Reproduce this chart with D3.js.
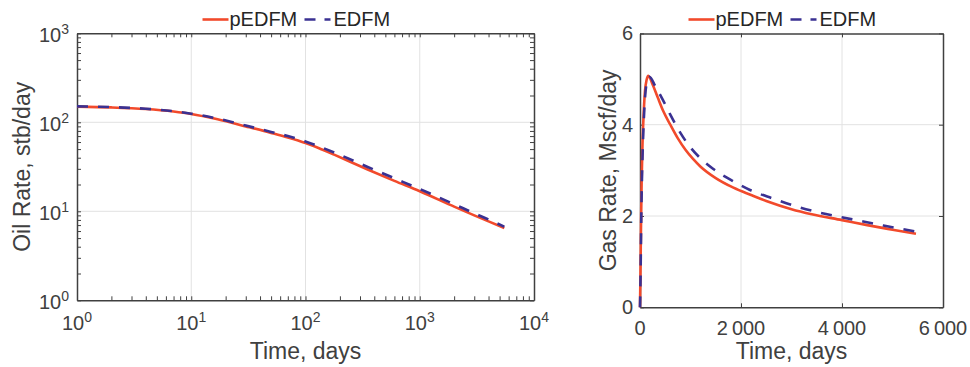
<!DOCTYPE html>
<html>
<head>
<meta charset="utf-8">
<script src="https://cdn.jsdelivr.net/npm/d3@7"></script>
<style>
  body { margin: 0; background: #fff; }
  svg { display: block; font-family: 'Liberation Sans', Arial, sans-serif; }
</style>
</head>
<body>
<svg width="970" height="367"></svg>
<script>
// oil rate, log-log
const OIL_T = [1, 2, 4, 7, 10, 17, 30, 50, 70, 100, 130, 180, 350, 600, 1000, 2000, 3000, 4000, 5500];
const OIL_PEDFM = [150, 147, 141, 132, 124, 108, 90, 76, 67.5, 58.5, 51.5, 43, 29.5, 22, 16.8, 11.3, 9, 7.7, 6.5];
const OIL_EDFM = [151, 148, 142, 133, 125, 110, 92, 78, 70, 61, 53.8, 45.5, 31.5, 23.5, 17.8, 12, 9.5, 8.1, 6.7];

// gas rate, linear
const GAS_T_PEDFM = [0, 10, 20, 33, 50, 75, 100, 130, 165, 250, 350, 460, 600, 750, 900, 1050, 1200, 1500, 1850, 2200, 2500, 3000, 3400, 4000, 4500, 5000, 5465];
const GAS_PEDFM = [0, 0.8, 1.8, 2.8, 3.6, 4.3, 4.75, 4.98, 5.07, 4.88, 4.6, 4.3, 4.0, 3.7, 3.45, 3.25, 3.08, 2.83, 2.62, 2.46, 2.33, 2.15, 2.04, 1.91, 1.8, 1.7, 1.61];
const GAS_T_EDFM = [0, 10, 20, 33, 50, 75, 100, 140, 185, 300, 450, 600, 800, 1000, 1200, 1452, 1850, 2178, 2640, 3036, 3500, 3960, 4420, 4820, 5465];
const GAS_EDFM = [0, 0.6, 1.5, 2.5, 3.3, 4.1, 4.6, 4.95, 5.05, 4.85, 4.55, 4.22, 3.82, 3.5, 3.26, 3.03, 2.76, 2.57, 2.38, 2.23, 2.09, 1.98, 1.88, 1.79, 1.66];

const LOG_X_TICKS = [1, 10, 100, 1000, 10000];
const LOG_Y_TICKS = [1, 10, 100, 1000];
const GAS_X_TICKS = [0, 2000, 4000, 6000];
const GAS_X_LABELS = ['0', '2\u2009000', '4\u2009000', '6\u2009000'];
const GAS_Y_TICKS = [0, 2, 4, 6];

const SERIES = ['pEDFM', 'EDFM'];
const RED = '#f24a2b';
const BLUE = '#3a3192';
const AXIS = '#404040';
const GRID = '#e2e2e2';

const svg = d3.select('svg');

function minorLogTicks(lo, hi) {
  const out = [];
  for (let d = lo; d < hi; d *= 10) {
    for (let k = 1; k < 10; k++) out.push(d * k);
  }
  out.push(hi);
  return out;
}

function frame(g, x, y, xTicks, yTicks) {
  const [x0, x1] = x.range();
  const [y0, y1] = y.range();

  // grid on major ticks
  g.append('g')
    .selectAll('line')
    .data(xTicks.slice(1, -1))
    .enter().append('line')
      .attr('x1', d => x(d)).attr('x2', d => x(d))
      .attr('y1', y0).attr('y2', y1)
      .attr('stroke', GRID).attr('stroke-width', 1);
  g.append('g')
    .selectAll('line')
    .data(yTicks.slice(1, -1))
    .enter().append('line')
      .attr('y1', d => y(d)).attr('y2', d => y(d))
      .attr('x1', x0).attr('x2', x1)
      .attr('stroke', GRID).attr('stroke-width', 1);

  const xt = x.base ? minorLogTicks(xTicks[0], xTicks[xTicks.length - 1]) : xTicks;
  const yt = y.base ? minorLogTicks(yTicks[0], yTicks[yTicks.length - 1]) : yTicks;

  const axes = [
    [d3.axisBottom(x).tickValues(xt), `translate(0,${y0})`],
    [d3.axisTop(x).tickValues(xt), `translate(0,${y1})`],
    [d3.axisLeft(y).tickValues(yt), `translate(${x0},0)`],
    [d3.axisRight(y).tickValues(yt), `translate(${x1},0)`]
  ];
  axes.forEach(([ax, tr]) => {
    const a = g.append('g')
        .attr('transform', tr)
        .call(ax.tickSize(-4).tickSizeOuter(0).tickFormat(''));
    a.select('.domain').attr('stroke', AXIS).attr('stroke-width', 1.5);
    a.selectAll('.tick line').attr('stroke', AXIS).attr('stroke-width', 1);
  });
}

function curve(g, x, y, ts, vs, color, dashed) {
  const line = d3.line()
      .x(d => x(d[0]))
      .y(d => y(d[1]))
      .curve(d3.curveMonotoneX);
  g.append('path')
      .datum(d3.zip(ts, vs))
      .attr('d', line)
      .attr('fill', 'none')
      .attr('stroke', color)
      .attr('stroke-width', 2.6)
      .attr('stroke-dasharray', dashed ? '11,10' : null);
}

function legend(g, cx) {
  const lg = g.append('g')
      .attr('transform', `translate(${cx - 103},0)`)
      .attr('font-size', 20)
      .attr('fill', '#262626');
  lg.append('line').attr('x1', 0).attr('x2', 26).attr('y1', 19.5).attr('y2', 19.5)
      .attr('stroke', RED).attr('stroke-width', 2.6);
  lg.append('text').attr('x', 27).attr('y', 26).text(SERIES[0]);
  lg.append('line').attr('x1', 102).attr('x2', 128).attr('y1', 19.5).attr('y2', 19.5)
      .attr('stroke', BLUE).attr('stroke-width', 2.6).attr('stroke-dasharray', '11,9');
  lg.append('text').attr('x', 131).attr('y', 26).text(SERIES[1]);
}

function axisTitles(g, x, y, xTitle, yTitle, yx, xBase) {
  const [x0, x1] = x.range();
  const [y0, y1] = y.range();
  g.append('text')
      .attr('x', (x0 + x1) / 2).attr('y', xBase)
      .attr('text-anchor', 'middle')
      .attr('font-size', 23)
      .attr('fill', AXIS)
      .text(xTitle);
  g.append('text')
      .attr('transform', `translate(${yx},${(y0 + y1) / 2})rotate(-90)`)
      .attr('text-anchor', 'middle')
      .attr('font-size', 23)
      .attr('fill', AXIS)
      .text(yTitle);
}

function powLabel(sel) {
  sel.append('tspan').text('10');
  sel.append('tspan')
      .attr('dy', -8)
      .attr('font-size', 14)
      .text(d => Math.round(Math.log10(d)));
}

// ---- left: oil rate ----
const gl = svg.append('g');
const xl = d3.scaleLog().domain([1, 10000]).range([77, 534]);
const yl = d3.scaleLog().domain([1, 1000]).range([300.3, 33.3]);
frame(gl, xl, yl, LOG_X_TICKS, LOG_Y_TICKS);

gl.append('g')
  .selectAll('text')
  .data(LOG_X_TICKS)
  .enter().append('text')
    .attr('x', d => xl(d)).attr('y', 330)
    .attr('text-anchor', 'middle')
    .attr('font-size', 20).attr('fill', AXIS)
    .call(powLabel);
gl.append('g')
  .selectAll('text')
  .data(LOG_Y_TICKS)
  .enter().append('text')
    .attr('x', 69).attr('y', d => yl(d) + 9)
    .attr('text-anchor', 'end')
    .attr('font-size', 20).attr('fill', AXIS)
    .call(powLabel);

curve(gl, xl, yl, OIL_T, OIL_PEDFM, RED, false);
curve(gl, xl, yl, OIL_T, OIL_EDFM, BLUE, true);
legend(gl, 305.5);
axisTitles(gl, xl, yl, 'Time, days', 'Oil Rate, stb/day', 30, 359);

// ---- right: gas rate ----
const gr = svg.append('g');
const xr = d3.scaleLinear().domain([0, 6000]).range([640, 943]);
const yr = d3.scaleLinear().domain([0, 6]).range([307.3, 33.4]);
frame(gr, xr, yr, GAS_X_TICKS, GAS_Y_TICKS);

gr.append('g')
  .selectAll('text')
  .data(GAS_X_TICKS)
  .enter().append('text')
    .attr('x', d => xr(d)).attr('y', 335)
    .attr('text-anchor', 'middle')
    .attr('font-size', 20).attr('fill', AXIS)
    .text((d, i) => GAS_X_LABELS[i]);
gr.append('g')
  .selectAll('text')
  .data(GAS_Y_TICKS)
  .enter().append('text')
    .attr('x', 633).attr('y', d => yr(d) + 7)
    .attr('text-anchor', 'end')
    .attr('font-size', 20).attr('fill', AXIS)
    .text(d => d);

curve(gr, xr, yr, GAS_T_PEDFM, GAS_PEDFM, RED, false);
curve(gr, xr, yr, GAS_T_EDFM, GAS_EDFM, BLUE, true);
legend(gr, 791.5);
axisTitles(gr, xr, yr, 'Time, days', 'Gas Rate, Mscf/day', 616, 359);
</script>
</body>
</html>
